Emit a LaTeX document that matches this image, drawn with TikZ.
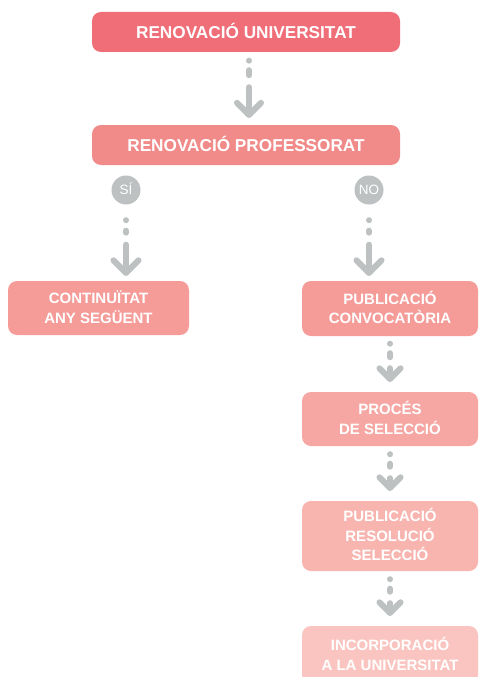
\documentclass[tikz,border=0pt]{standalone}
\usepackage{fontspec}
\setmainfont{Liberation Sans}
\usetikzlibrary{calc}
\definecolor{cA}{HTML}{EF6E78}
\definecolor{cB}{HTML}{F18B89}
\definecolor{cC}{HTML}{F59C99}
\definecolor{cD}{HTML}{F6A7A3}
\definecolor{cE}{HTML}{F8B5B0}
\definecolor{cF}{HTML}{FAC5C0}
\definecolor{cgray}{HTML}{BDC1C2}
\tikzset{
  flowbox/.style={rectangle, rounded corners=9pt, inner sep=0pt, text=white,
    font=\bfseries\fontsize{15}{19.5}\selectfont, align=center,
    minimum width=176pt, text height=10.7pt, text depth=0pt},
  bigbox/.style={flowbox, minimum width=308pt, minimum height=40pt,
    font=\bfseries\fontsize{17.2}{20}\selectfont, text height=12.3pt, text depth=0pt},
  twoline/.style={text height=30.2pt, text depth=0pt},
  threeline/.style={text height=49.7pt, text depth=0pt},
  answer/.style={circle, fill=cgray, inner sep=0pt, minimum size=29pt, text=white,
    font=\fontsize{13.5}{15}\selectfont, text height=9.6pt, text depth=0pt},
  conn/.style={draw=cgray, line width=6pt, line cap=round, line join=round},
}
% #1 source, #2 target, #3 x shift, #4 dot, #5/#6 dash, #7 shaft start, #8 tip offset, #9 chevron size
\newcommand\flowconn[9]{%
  \fill[cgray] ($(#1.south)+(#3,#4)$) circle[radius=3];
  \draw[conn] ($(#1.south)+(#3,#5)$) -- ($(#1.south)+(#3,#6)$);
  \draw[conn] ($(#1.south)+(#3,#7)$) -- ($(#1.south |- #2.north)+(#3,#8)$);
  \draw[conn] ($(#1.south |- #2.north)+(#3-#9,#8-#9)$) -- ($(#1.south |- #2.north)+(#3,#8)$) -- ($(#1.south |- #2.north)+(#3+#9,#8-#9)$);
}
\begin{document}
\begin{tikzpicture}[x=1pt,y=-1pt]
\useasboundingbox (0,0) rectangle (479,677);
\clip (0,0) rectangle (479,677);
\fill[white] (0,0) rectangle (479,677);

\node[bigbox, fill=cA] (univ) at (246,32) {RENOVACIÓ UNIVERSITAT};
\node[bigbox, fill=cB] (prof) at (246,145) {RENOVACIÓ PROFESSORAT};
\node[answer] (si) at (126,190) {SÍ};
\node[answer] (no) at (369,190) {NO};
\node[flowbox, twoline, fill=cC, minimum width=181pt, minimum height=54pt] (cont) at (98.5,308) {CONTINUÏTAT\\ANY SEGÜENT};
\node[flowbox, twoline, fill=cC, minimum height=55pt] (pubconv) at (390,308.5) {PUBLICACIÓ\\CONVOCATÒRIA};
\node[flowbox, twoline, fill=cD, minimum height=54pt] (proces) at (390,419) {PROCÉS\\DE SELECCIÓ};
\node[flowbox, threeline, fill=cE, minimum height=70pt] (resol) at (390,536) {PUBLICACIÓ\\RESOLUCIÓ\\SELECCIÓ};
\node[flowbox, twoline, fill=cF, minimum height=58pt] (incorp) at (390,655) {INCORPORACIÓ\\A LA UNIVERSITAT};

\flowconn{univ}{prof}{3}{8.5}{18}{23}{35}{-10}{12}
\flowconn{si}{cont}{0}{15.5}{26}{28}{40}{-8}{12.5}
\flowconn{no}{pubconv}{0}{15.5}{26}{28}{40}{-8}{12.5}
\flowconn{pubconv}{proces}{0}{7.5}{17}{21}{32}{-13}{10.5}
\flowconn{proces}{resol}{0}{8}{17.5}{20.5}{32}{-13}{10.5}
\flowconn{resol}{incorp}{0}{8}{17.5}{20.5}{32}{-13}{10.5}
\end{tikzpicture}
\end{document}
